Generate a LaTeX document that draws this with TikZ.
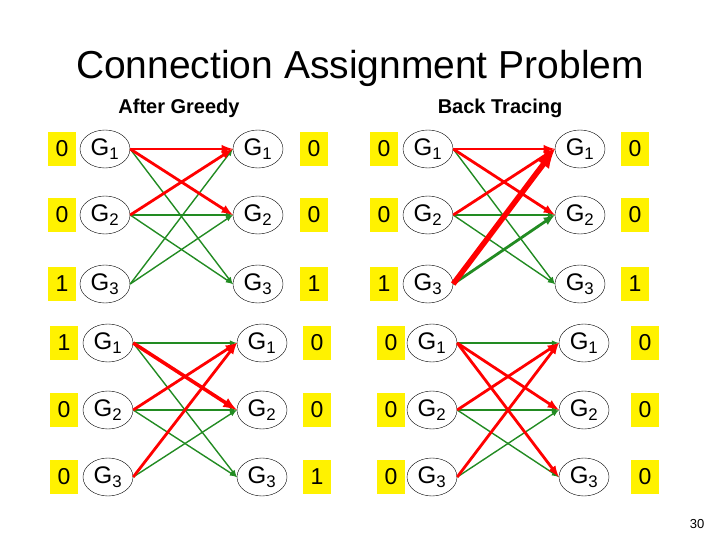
\documentclass[tikz,border=0pt]{standalone}
\usepackage{fontspec}
\setmainfont{Liberation Sans}
\usetikzlibrary{shapes.geometric}
\begin{document}
\begin{tikzpicture}[x=1pt,y=-1pt,
 gnode/.style={draw,ellipse,minimum width=50pt,minimum height=38pt,inner sep=0pt,font=\fontsize{24}{26}\selectfont},
 ybox/.style={fill=yellow,minimum width=28pt,minimum height=34pt,inner sep=0pt,font=\fontsize{23}{25}\selectfont},
 gr/.style={draw={rgb,255:red,34;green,139;blue,34},line width=1.4pt,-latex},
 grk/.style={gr,line width=2.8pt},
 rd/.style={draw=red,line width=2.8pt,-latex},
 rdk/.style={draw=red,line width=5.5pt,-latex}]
\useasboundingbox (0,0) rectangle (720,540);
\node[font=\fontsize{39}{42}\selectfont] (title) at (360,68) {Connection Assignment Problem};
\node[font=\bfseries\fontsize{20}{22}\selectfont] (ag) at (179,108) {After Greedy};
\node[font=\bfseries\fontsize{20}{22}\selectfont] (bt) at (500,108) {Back Tracing};
\node[font=\fontsize{13}{15}\selectfont] (pg) at (697,524) {30};
\def\mkquad#1#2#3#4#5#6{%
 \foreach \i/\y/\lv/\rv in {#6}{%
  \node[gnode] (#1L\i) at (#2,\y) {G\textsubscript{\i}};
  \node[gnode] (#1R\i) at (#3,\y) {G\textsubscript{\i}};
  \node[ybox] (#1a\i) at (#4,\y) {\lv};
  \node[ybox] (#1b\i) at (#5,\y) {\rv};
 }}
\mkquad{A}{105}{258}{62}{314}{1/149/0/0,2/215/0/0,3/284/1/1}
\mkquad{B}{428}{580}{384}{635}{1/149/0/0,2/215/0/0,3/284/1/1}
\mkquad{C}{108}{262}{64}{317}{1/343/1/0,2/410/0/0,3/477/0/1}
\mkquad{D}{432}{584}{391}{645}{1/343/0/0,2/410/0/0,3/477/0/0}
% Q1
\draw[gr] (AL1.east) -- (AR3.west);
\draw[gr] (AL2.east) -- (AR2.west);
\draw[gr] (AL2.east) -- (AR3.west);
\draw[gr] (AL3.east) -- (AR1.west);
\draw[gr] (AL3.east) -- (AR2.west);
\draw[rd] (AL1.east) -- (AR1.west);
\draw[rd] (AL1.east) -- (AR2.west);
\draw[rd] (AL2.east) -- (AR1.west);
% Q2
\draw[gr] (BL1.east) -- (BR3.west);
\draw[gr] (BL2.east) -- (BR2.west);
\draw[gr] (BL2.east) -- (BR3.west);
\draw[grk] (BL3.east) -- (BR2.west);
\draw[rd] (BL1.east) -- (BR1.west);
\draw[rd] (BL1.east) -- (BR2.west);
\draw[rd] (BL2.east) -- (BR1.west);
\draw[rdk] (BL3.east) -- (BR1.west);
% Q3
\draw[gr] (CL1.east) -- (CR1.west);
\draw[gr] (CL1.east) -- (CR3.west);
\draw[gr] (CL2.east) -- (CR2.west);
\draw[gr] (CL2.east) -- (CR3.west);
\draw[gr] (CL3.east) -- (CR2.west);
\draw[rd,line width=3.6pt] (CL1.east) -- (CR2.west);
\draw[rd] (CL2.east) -- (CR1.west);
\draw[rd] (CL3.east) -- (CR1.west);
% Q4
\draw[gr] (DL1.east) -- (DR1.west);
\draw[gr] (DL2.east) -- (DR2.west);
\draw[gr] (DL2.east) -- (DR3.west);
\draw[gr] (DL3.east) -- (DR2.west);
\draw[rd] (DL1.east) -- (DR2.west);
\draw[rd] (DL1.east) -- (DR3.west);
\draw[rd] (DL2.east) -- (DR1.west);
\draw[rd] (DL3.east) -- (DR1.west);
\end{tikzpicture}
\end{document}
